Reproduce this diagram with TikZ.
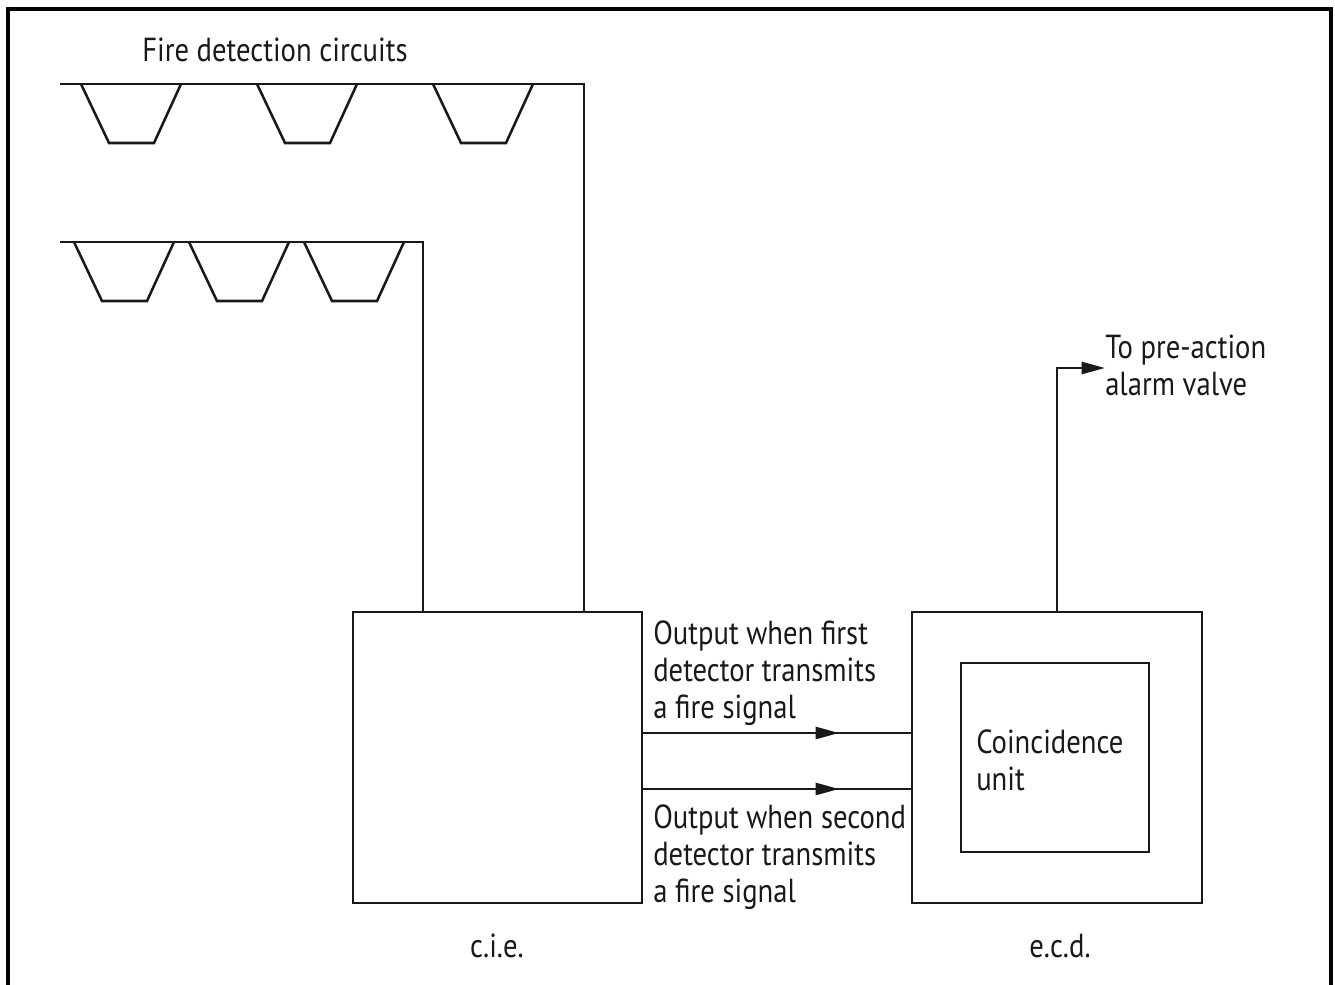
\documentclass[tikz,border=0pt]{standalone}
\usepackage{fontspec}
\setmainfont[FakeStretch=0.86]{PT Sans}
\usetikzlibrary{arrows.meta}
\tikzset{
  x=0.75pt,y=-0.75pt,
  wire/.style={draw=black!90,line width=1.9pt,line join=miter},
  framewire/.style={draw=black,line width=3pt},
  block/.style={draw=black!90,line width=1.9pt,rectangle,inner sep=0pt,outer sep=0pt,anchor=north west},
  label/.style={inner sep=0pt,anchor=base west,align=left,text=black!90,font=\fontsize{25pt}{27.75pt}\selectfont},
  clabel/.style={label,anchor=base},
  tip/.style={-{Triangle[length=17.5pt,width=9pt]}},
  pics/detector/.style={code={
    \draw[wire] (0,0) -- (28,59) -- (73,59) -- (100,0);
  }}
}
\begin{document}
\begin{tikzpicture}
\useasboundingbox (0,0) rectangle (1335,985);
\draw[framewire] (7.5,985) -- (7.5,8.5) -- (1330.5,8.5) -- (1330.5,985);

\node[block,minimum width=216.75pt,minimum height=218.25pt] (cie) at (353,612) {};
\node[block,minimum width=217.5pt,minimum height=218.25pt] (ecd) at (912,612) {};
\node[block,minimum width=141pt,minimum height=141.75pt] (unit) at (961,663) {};

\coordinate (endA) at (60,84);
\coordinate (endB) at (60,242);
\coordinate (cornerA) at (584,84);
\coordinate (cornerB) at (423,242);
\coordinate (inA) at (584,612);
\coordinate (inB) at (423,612);
\coordinate (outV) at (1057,612);
\coordinate (bendV) at (1057,368);
\coordinate (tipV) at (1105,368);
\draw[wire] (endA) -- (cornerA) -- (inA);
\draw[wire] (endB) -- (cornerB) -- (inB);
\draw[wire,tip] (outV) -- (bendV) -- (tipV);

\pic at (81,84) {detector};
\pic at (257,84) {detector};
\pic at (433,84) {detector};
\pic at (74,242) {detector};
\pic at (189,242) {detector};
\pic at (304,242) {detector};

\coordinate (sigA0) at (cie.east |- 0,733);
\coordinate (sigA1) at (839,733);
\coordinate (sigA2) at (ecd.west |- 0,733);
\coordinate (sigB0) at (cie.east |- 0,789);
\coordinate (sigB1) at (839,789);
\coordinate (sigB2) at (ecd.west |- 0,789);
\draw[wire] (sigA0) -- (sigA2);
\draw[wire] (sigB0) -- (sigB2);
\draw[wire,tip] (sigA0) -- (sigA1);
\draw[wire,tip] (sigB0) -- (sigB1);

\node[label] (title) at (142,61) {Fire detection circuits};
\node[label,anchor=north west] (valve) at (1105,335) {To pre-action\\alarm valve};
\node[label,anchor=north west] (first) at (653,620) {Output when first\\detector transmits\\a fire signal};
\node[label,anchor=north west] (second) at (653,804) {Output when second\\detector transmits\\a fire signal};
\node[label,anchor=north west] (coin) at (976,729) {Coincidence\\unit};
\node[clabel] (cielabel) at (497,957) {c.i.e.};
\node[clabel] (ecdlabel) at (1060,957) {e.c.d.};
\end{tikzpicture}
\end{document}
